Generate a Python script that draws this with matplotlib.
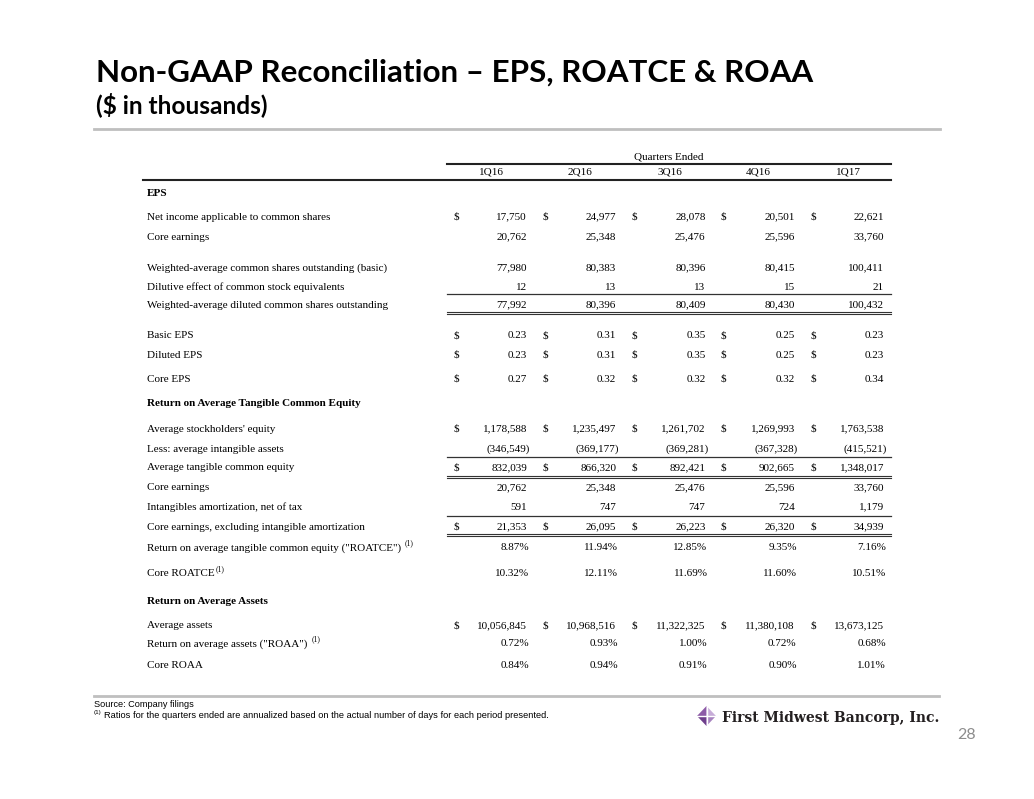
import matplotlib
matplotlib.use('Agg')
import matplotlib.pyplot as plt
from matplotlib.patches import Polygon


# data ($ in thousands)
quarters = ['1Q16', '2Q16', '3Q16', '4Q16', '1Q17']
net_income = [17750, 24977, 28078, 20501, 22621]
core_earnings = [20762, 25348, 25476, 25596, 33760]
wa_shares_basic = [77980, 80383, 80396, 80415, 100411]
dilutive_effect = [12, 13, 13, 15, 21]
wa_shares_diluted = [77992, 80396, 80409, 80430, 100432]
basic_eps = [0.23, 0.31, 0.35, 0.25, 0.23]
diluted_eps = [0.23, 0.31, 0.35, 0.25, 0.23]
core_eps = [0.27, 0.32, 0.32, 0.32, 0.34]
avg_equity = [1178588, 1235497, 1261702, 1269993, 1763538]
avg_intangibles = [346549, 369177, 369281, 367328, 415521]
avg_tce = [832039, 866320, 892421, 902665, 1348017]
intang_amort = [591, 747, 747, 724, 1179]
core_excl_amort = [21353, 26095, 26223, 26320, 34939]
roatce = [8.87, 11.94, 12.85, 9.35, 7.16]
core_roatce = [10.32, 12.11, 11.69, 11.60, 10.51]
avg_assets = [10056845, 10968516, 11322325, 11380108, 13673125]
roaa = [0.72, 0.93, 1.00, 0.72, 0.68]
core_roaa = [0.84, 0.94, 0.91, 0.90, 1.01]

# (label, values, kind, $ sign, row y, footnote mark)
rows = [
    ('Net income applicable to common shares', net_income, 'int', True, 216, False),
    ('Core earnings', core_earnings, 'int', False, 236, False),
    ('Weighted-average common shares outstanding (basic)', wa_shares_basic, 'int', False, 267, False),
    ('Dilutive effect of common stock equivalents', dilutive_effect, 'int', False, 286, False),
    ('Weighted-average diluted common shares outstanding', wa_shares_diluted, 'int', False, 304, False),
    ('Basic EPS', basic_eps, 'eps', True, 335, False),
    ('Diluted EPS', diluted_eps, 'eps', True, 354, False),
    ('Core EPS', core_eps, 'eps', True, 378, False),
    ("Average stockholders' equity", avg_equity, 'int', True, 428, False),
    ('Less: average intangible assets', avg_intangibles, 'neg', False, 448, False),
    ('Average tangible common equity', avg_tce, 'int', True, 467, False),
    ('Core earnings', core_earnings, 'int', False, 487, False),
    ('Intangibles amortization, net of tax', intang_amort, 'int', False, 506, False),
    ('Core earnings, excluding intangible amortization', core_excl_amort, 'int', True, 526, False),
    ('Return on average tangible common equity ("ROATCE") ', roatce, 'pct', False, 547, True),
    ('Core ROATCE', core_roatce, 'pct', False, 573, True),
    ('Average assets', avg_assets, 'int', True, 625, False),
    ('Return on average assets ("ROAA") ', roaa, 'pct', False, 643, True),
    ('Core ROAA', core_roaa, 'pct', False, 664, False),
]
sections = [('EPS', 193), ('Return on Average Tangible Common Equity', 403),
            ('Return on Average Assets', 601)]

W, H = 1034, 799
fig = plt.figure(figsize=(W / 100, H / 100), dpi=100)
ax = fig.add_axes([0, 0, 1, 1])
ax.set_xlim(0, W)
ax.set_ylim(H, 0)
ax.axis('off')
rend = fig.canvas.get_renderer()


def fit(t, w):
    # scale font so the text spans w pixels
    bw = t.get_window_extent(renderer=rend).width
    t.set_fontsize(t.get_fontsize() * w / bw)


def fmt(v, kind):
    if kind == 'int':
        return '{:,}'.format(v)
    if kind == 'neg':
        return '({:,})'.format(v)
    if kind == 'eps':
        return '{:.2f}'.format(v)
    return '{:.2f}%'.format(v)


# header of the slide
t = ax.text(96, 82, 'Non-GAAP Reconciliation \u2013 EPS, ROATCE & ROAA', family='Lato',
            fontweight='bold', fontsize=27, va='baseline')
fit(t, 717)
t = ax.text(96, 113, '($ in thousands)', family='Lato', fontweight='bold', fontsize=16, va='baseline')
fit(t, 172)
ax.plot([94, 940], [129, 129], color='#bfbfbf', lw=2)

# table
serif = 'Liberation Serif'
fs = 8
col_right = [527 + 89.25 * i for i in range(len(quarters))]
hang = {'int': 0, 'eps': 0, 'neg': 3, 'pct': 2}

ax.text(669, 157, 'Quarters Ended', family=serif, fontsize=fs, ha='center', va='center')
ax.plot([447, 891], [164, 164], color='#222222', lw=1.5)
for q, xr in zip(quarters, col_right):
    ax.text(xr - 36, 172, q, family=serif, fontsize=fs, ha='center', va='center')
ax.plot([143, 891], [180, 180], color='#222222', lw=1.5)

for name, y in sections:
    ax.text(147, y + 3.5, name, family=serif, fontsize=fs, fontweight='bold', va='baseline')

for label, vals, kind, dollar, y, sup in rows:
    t = ax.text(147, y + 3.5, label, family=serif, fontsize=fs, va='baseline')
    if sup:
        x_end = t.get_window_extent(renderer=rend).x1
        ax.text(x_end + 1, y - 2, '(1)', family=serif, fontsize=5.5, va='baseline')
    for v, xr in zip(vals, col_right):
        ax.text(xr + hang[kind], y + 3.5, fmt(v, kind), family=serif, fontsize=fs,
                ha='right', va='baseline')
        if dollar:
            ax.text(xr - 71, y + 3.5, '$', family=serif, fontsize=fs, ha='center', va='baseline')

for y in [294, 457, 516]:
    ax.plot([447, 891], [y, y], color='#333333', lw=0.9)
for y in [313, 477, 535]:
    ax.plot([447, 891], [y - 1.3, y - 1.3], color='#333333', lw=0.8)
    ax.plot([447, 891], [y + 1.3, y + 1.3], color='#333333', lw=0.8)

# footer
ax.plot([94, 939], [696, 696], color='#bfbfbf', lw=2)
t = ax.text(94, 707, 'Source: Company filings', family='Liberation Sans', fontsize=7, va='baseline')
fit(t, 99)
ax.text(94, 714, '(1)', family='Liberation Sans', fontsize=4.5, va='baseline')
t = ax.text(104, 718, 'Ratios for the quarters ended are annualized based on the actual number of days '
            'for each period presented.', family='Liberation Sans', fontsize=6.5, va='baseline')
fit(t, 444)

# company logo
cx, cy = 706.5, 716
dx, dy = 9.5, 10
shades = ['#8d5ba7', '#c7acd8', '#6f3f8c', '#a783bf']
quads = [[(cx - dx, cy), (cx, cy - dy), (cx, cy)],
         [(cx, cy - dy), (cx + dx, cy), (cx, cy)],
         [(cx - dx, cy), (cx, cy + dy), (cx, cy)],
         [(cx, cy + dy), (cx + dx, cy), (cx, cy)]]
for pts, c in zip(quads, shades):
    ax.add_patch(Polygon(pts, closed=True, facecolor=c, edgecolor='none'))
ax.plot([cx - dx, cx + dx], [cy, cy], color='white', lw=1)
ax.plot([cx, cx], [cy - dy, cy + dy], color='white', lw=1)
t = ax.text(722, 722, 'First Midwest Bancorp, Inc.', family='DejaVu Serif', fontweight='semibold',
            fontsize=11, color='#231f20', va='baseline')
fit(t, 217)

ax.text(967, 735, '28', family='Lato', fontsize=11.5, color='#8c8c8c', ha='center', va='center')

fig.savefig('out.png', dpi=100)
